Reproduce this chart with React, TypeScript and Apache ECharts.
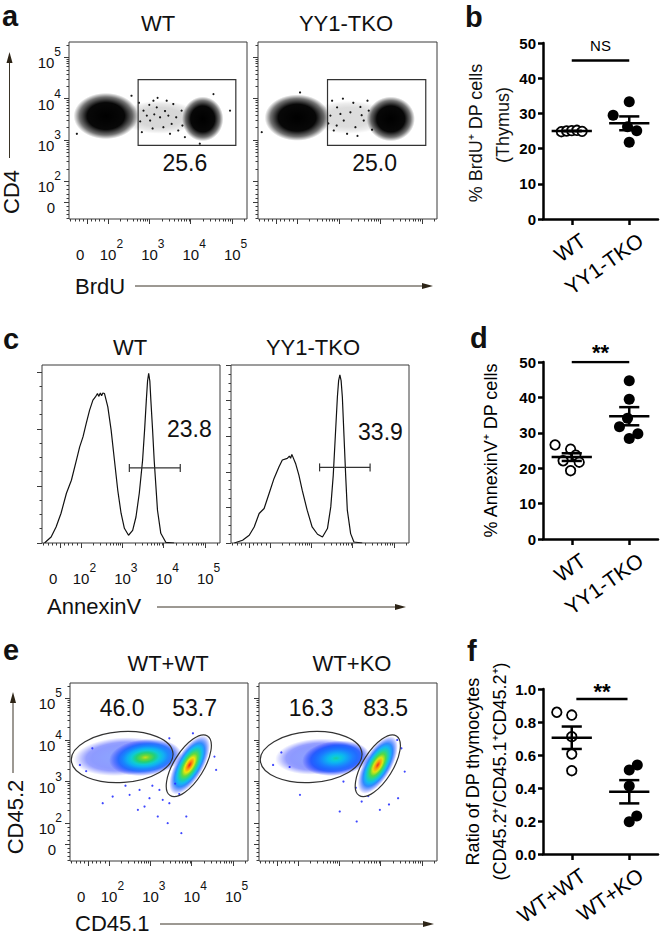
import React, { useEffect, useRef } from "react";
import * as echarts from "echarts";

const FONT = "'Liberation Sans', Arial, Helvetica, sans-serif";
const INK = "#111111";
const BORDER = "#3a3a3a";

// ---------- flow cytometry display scale (biexponential, decade units) ----------
const flowTickValues = [0, 0.5, 1.5, 2.5, 3.5];
const flowTickExponents = ["0", "2", "3", "4", "5"];
const flowXLabelValues = [-0.17, 0.5, 1.5, 2.5, 3.5]; // the "0" label sits a little left of its tick
const flowXRange = [-0.44, 3.86];
const flowYRange = [-0.41, 3.87];

// ---------- panel a : BrdU / CD4 dot plots ----------
const aTitles = ["WT", "YY1-TKO"];
const aGatePercent = ["25.6", "25.0"];
const aGateBox = [1.23, 1.37, 3.59, 2.96]; // u1, v1, u2, v2
const aGateLabelAt = [2.36, 0.94];
// population clouds: [centre u, centre v, spread u, spread v, tilt deg, relative density]
const aWTPops = [
  [1.75, 2.05, 0.95, 0.4, 0, 0.16],
  [0.45, 2.08, 0.78, 0.56, 0, 1.0],
  [2.79, 2.01, 0.5, 0.54, 0, 1.0],
];
const aKOPops = [
  [1.75, 2.05, 0.95, 0.4, 0, 0.14],
  [0.5, 2.04, 0.78, 0.56, 0, 1.0],
  [2.75, 2.01, 0.58, 0.54, 0, 1.0],
];
const aWTSparse = [
  [1.36, 2.21], [1.52, 1.97], [1.68, 2.29], [1.84, 1.81], [1.96, 2.09], [2.08, 2.37], [2.2, 1.73],
  [1.32, 1.69], [1.6, 2.45], [1.92, 2.45], [2.28, 2.21], [2.04, 1.89], [1.76, 2.05], [1.44, 2.09],
  [2.36, 1.57], [3.05, 2.61], [3.45, 2.21], [-0.25, 1.65], [2.72, 1.41], [1.07, 2.57],
  [1.28, 1.95], [1.58, 1.78], [1.7, 2.52], [1.88, 2.2], [2.15, 2.05], [2.3, 1.85], [1.5, 2.35],
  [2.0, 1.65], [1.25, 2.4], [1.62, 2.12],
];
const aKOSparse = [
  [1.3, 2.09], [1.46, 2.29], [1.62, 1.97], [1.38, 1.73], [1.78, 2.17], [1.9, 1.81], [1.34, 2.45],
  [2.1, 1.97], [2.22, 2.21], [2.19, 2.45], [1.7, 1.65], [1.54, 2.13], [-0.35, 1.69], [0.57, 2.65],
  [1.85, 2.4], [2.02, 2.3], [1.6, 2.5], [2.3, 1.75], [1.25, 1.9], [1.95, 1.6], [1.45, 1.85],
  [2.05, 2.1],
];

// ---------- panel b ----------
const bGroups = ["WT", "YY1-TKO"];
const bWT = [24.8, 25.0, 25.1, 25.2, 24.9];
const bWTJitter = [-0.18, -0.09, 0, 0.09, 0.18];
const bKO = [33.3, 29.5, 26.2, 25.1, 21.8];
const bKOJitter = [0, -0.28, -0.03, 0.13, 0];
const bSignif = "NS";
const bSignifLevel = 45;
const bAxisTitle = ["% BrdU⁺ DP cells", "(Thymus)"];

// ---------- panel c : AnnexinV histograms ----------
const cTitles = ["WT", "YY1-TKO"];
const cWTHist = [
  [-0.38, 0], [-0.22, 5.3], [-0.1, 14], [0.02, 26.1], [0.15, 43.6], [0.27, 55], [0.39, 72.5],
  [0.47, 84.2], [0.55, 93], [0.63, 105], [0.71, 116.4], [0.79, 125.2], [0.85, 128], [0.9, 131],
  [0.93, 128.5], [0.97, 131.5], [1.0, 129], [1.03, 131.5], [1.07, 131], [1.15, 119.3], [1.23, 98.9],
  [1.31, 72.5], [1.39, 46.2], [1.47, 26.1], [1.55, 12.9], [1.65, 6.8], [1.75, 11.1], [1.83, 22.8],
  [1.91, 43.6], [1.99, 72.5], [2.04, 100], [2.08, 125], [2.11, 142], [2.137, 148.6], [2.165, 142],
  [2.19, 125], [2.23, 100], [2.27, 72.5], [2.35, 28.7], [2.43, 8.5], [2.55, 0.6], [2.75, 0],
];
const cKOHist = [
  [-0.36, 0], [-0.16, 3.8], [0, 10.8], [0.12, 22.5], [0.24, 41.4], [0.36, 48.5], [0.48, 69.6],
  [0.6, 90.7], [0.72, 107], [0.8, 116.5], [0.92, 118.9], [0.97, 122], [1.0, 119], [1.03, 124.5],
  [1.12, 111.8], [1.2, 95.4], [1.28, 74.2], [1.4, 46.1], [1.52, 22.5], [1.65, 12.3], [1.77, 8.5],
  [1.89, 20.3], [1.97, 50.7], [2.03, 95], [2.08, 150], [2.13, 205], [2.16, 228], [2.19, 236.2],
  [2.22, 228], [2.25, 205], [2.29, 150], [2.33, 95], [2.37, 46.1], [2.45, 13.2], [2.53, 1.4], [2.73, 0],
];
const cHistMax = [156, 250];
const cGates = [[1.67, 2.9, 65.8], [1.7, 2.92, 106.2]];
const cGatePercent = ["23.8", "33.9"];
const cGateLabelAt = [[3.12, 100.3], [3.17, 156.3]];

// ---------- panel d ----------
const dGroups = ["WT", "YY1-TKO"];
const dWT = [26.6, 25.4, 23.7, 22.1, 21.7, 19.3];
const dWTJitter = [-0.29, -0.02, 0.07, -0.15, 0.13, -0.02];
const dKO = [44.7, 39.5, 34.1, 31.7, 29.7, 28.4];
const dKOJitter = [0, 0, -0.03, -0.17, 0.15, 0];
const dSignif = "**";
const dSignifLevel = 50;

// ---------- panel e : CD45.1 / CD45.2 pseudocolour plots ----------
const eTitles = ["WT+WT", "WT+KO"];
const ePercentLeft = ["46.0", "16.3"];
const ePercentRight = ["53.7", "83.5"];
const eLabelLeftAt = [0.82, 3.26];
const eLabelRightAt = [[2.57, 3.26], [2.62, 3.26]];
// gates: [centre u, centre v, semi u, semi v, tilt deg]
const eGates = [[0.82, 2.09, 1.23, 0.61, 4], [2.43, 1.88, 0.85, 0.36, 58]];
// populations: [centre u, centre v, spread u, spread v, tilt deg, peak density level 0..1]
const eWWPops = [
  [0.8, 2.1, 1.15, 0.46, 4, 0.12],
  [1.38, 2.08, 0.88, 0.44, 6, 0.72],
  [2.45, 1.9, 0.8, 0.33, 60, 1.0],
];
const eWKPops = [
  [0.95, 2.1, 1.0, 0.43, 4, 0.1],
  [1.42, 2.06, 0.82, 0.42, 6, 0.5],
  [2.43, 1.9, 0.78, 0.33, 60, 0.98],
];
const eWWSparse = [
  [0.35, 0.98], [0.59, 1.14], [1.0, 1.18], [1.24, 1.3], [1.36, 0.9], [1.48, 1.1], [1.68, 0.66],
  [1.72, 1.3], [1.92, 0.5], [2.25, 0.26], [2.37, 0.66], [1.96, 0.98], [1.8, 1.06], [1.2, 0.82],
  [3.09, 1.78], [3.05, 2.1], [1.96, 2.54], [2.53, 2.66], [2.1, 1.45], [1.55, 1.4], [2.2, 1.2],
  [0.9, 1.4], [-0.2, 1.9], [0.1, 2.3], [-0.05, 1.75],
];
const eWKSparse = [
  [0.55, 1.18], [1.51, 0.78], [1.92, 0.54], [2.04, 1.02], [2.92, 1.1], [3.08, 1.74], [2.48, 0.82],
  [2.7, 0.95], [1.9, 1.35], [2.2, 1.15], [0.1, 2.2], [-0.1, 1.9], [0.3, 1.85], [3.0, 2.3], [2.9, 2.5],
  [1.6, 1.5],
];

// ---------- panel f ----------
const fGroups = ["WT+WT", "WT+KO"];
const fWW = [0.859, 0.842, 0.711, 0.606, 0.505];
const fWWJitter = [-0.26, 0, 0, 0, 0];
const fWK = [0.539, 0.509, 0.412, 0.23, 0.196];
const fWKJitter = [0.14, 0, 0, 0.13, 0];
const fSignif = "**";
const fSignifLevel = 0.94;

// ---------------------------------------------------------------------------
function flowMinorTicks(range: number[]) {
  const t: number[] = [];
  for (let k = 2; k <= 5; k++) for (let m = 2; m <= 9; m++) t.push(k - 1.5 + Math.log10(m));
  for (let m = 1; m <= 4; m++) { t.push(m * 0.1); t.push(-m * 0.1); }
  return t.filter((v) => v > range[0] && v < range[1]);
}

function mean(a: number[]) { return a.reduce((s, v) => s + v, 0) / a.length; }
function sem(a: number[]) {
  const m = mean(a);
  const v = a.reduce((s, x) => s + (x - m) * (x - m), 0) / (a.length - 1);
  return Math.sqrt(v) / Math.sqrt(a.length);
}

const PSEUDO: [number, number[]][] = [
  [0, [30, 40, 255]], [0.25, [20, 120, 255]], [0.42, [0, 205, 235]], [0.58, [40, 212, 70]],
  [0.75, [235, 230, 0]], [0.88, [255, 130, 0]], [1, [230, 20, 30]],
];
function pseudo(t: number, a: number) {
  t = Math.max(0, Math.min(1, t));
  let i = 0;
  while (i < PSEUDO.length - 2 && t > PSEUDO[i + 1][0]) i++;
  const [t0, c0] = PSEUDO[i];
  const [t1, c1] = PSEUDO[i + 1];
  const f = (t - t0) / (t1 - t0);
  const c = c0.map((v, k) => Math.round(v + (c1[k] - v) * f));
  return `rgba(${c[0]},${c[1]},${c[2]},${a.toFixed(3)})`;
}
function pseudoFill(level: number) {
  const alpha = level < 0.2 ? 0.5 : 0.95;
  const rs = [0, 0.12, 0.25, 0.38, 0.5, 0.62, 0.74, 0.86, 1];
  return new echarts.graphic.RadialGradient(0.5, 0.5, 0.5,
    rs.map((r) => ({ offset: r, color: pseudo(level * (1 - r), r < 0.72 ? alpha : alpha * Math.max(0, (1 - r) / 0.28)) })));
}
function blackFill(d: number) {
  return new echarts.graphic.RadialGradient(0.5, 0.5, 0.5, [
    { offset: 0, color: `rgba(0,0,0,${d})` },
    { offset: 0.58, color: `rgba(0,0,0,${0.97 * d})` },
    { offset: 0.82, color: `rgba(0,0,0,${0.55 * d})` },
    { offset: 1, color: "rgba(0,0,0,0)" },
  ]);
}

const richBase = { fontFamily: FONT, fontSize: 15, color: INK, verticalAlign: "bottom", lineHeight: 24 };
const richSup = { fontFamily: FONT, fontSize: 12, color: INK, verticalAlign: "top", lineHeight: 12 };

function nearestIndex(list: number[], v: number) {
  let best = 0;
  list.forEach((t, i) => { if (Math.abs(t - v) < Math.abs(list[best] - v)) best = i; });
  return best;
}

function buildOption() {
  const grid: any[] = [];
  const xAxis: any[] = [];
  const yAxis: any[] = [];
  const series: any[] = [];

  const addGrid = (l: number, t: number, w: number, h: number, show: boolean) => {
    grid.push({ left: l, top: t, width: w, height: h, show, borderColor: BORDER, borderWidth: 1, backgroundColor: "transparent" });
    return grid.length - 1;
  };

  const tickStyle = { color: BORDER, width: 1 };
  const noLine = { show: false, onZero: false };

  const flowPanel = (rect: number[], o: { xLabels: boolean; yLabels: boolean; histMax?: number }) => {
    const g = addGrid(rect[0], rect[1], rect[2], rect[3], true);
    const xi = xAxis.length;
    xAxis.push({
      gridIndex: g, type: "value", position: "bottom", min: flowXRange[0], max: flowXRange[1],
      axisLine: noLine, splitLine: { show: false },
      axisTick: { show: true, length: 5, customValues: flowTickValues, lineStyle: tickStyle },
      axisLabel: o.xLabels
        ? {
            show: true, customValues: flowXLabelValues, margin: 19, align: "center", hideOverlap: false,
            alignMinLabel: "center", alignMaxLabel: "center", showMinLabel: true, showMaxLabel: true,
            formatter: (v: number) => {
              const i = nearestIndex(flowXLabelValues, v);
              return i === 0 ? "{b|0}" : `{sp| }{b|10}{s|${flowTickExponents[i]}}`;
            },
            rich: { b: richBase, s: richSup, sp: { width: 7 } },
          }
        : { show: false },
    });
    xAxis.push({
      gridIndex: g, type: "value", position: "bottom", min: flowXRange[0], max: flowXRange[1],
      axisLine: noLine, splitLine: { show: false }, axisLabel: { show: false },
      axisTick: { show: true, length: 2.5, customValues: flowMinorTicks(flowXRange), lineStyle: tickStyle },
    });
    const yi = yAxis.length;
    if (o.histMax) {
      const maj: number[] = [];
      const min: number[] = [];
      for (let v = 0; v <= o.histMax; v += 12.5) (v % 50 === 0 ? maj : min).push(v);
      yAxis.push({
        gridIndex: g, type: "value", position: "left", min: 0, max: o.histMax,
        axisLine: noLine, splitLine: { show: false }, axisLabel: { show: false },
        axisTick: { show: true, length: 5, customValues: maj, lineStyle: tickStyle },
      });
      yAxis.push({
        gridIndex: g, type: "value", position: "left", min: 0, max: o.histMax,
        axisLine: noLine, splitLine: { show: false }, axisLabel: { show: false },
        axisTick: { show: true, length: 2.5, customValues: min, lineStyle: tickStyle },
      });
    } else {
      yAxis.push({
        gridIndex: g, type: "value", position: "left", min: flowYRange[0], max: flowYRange[1],
        axisLine: noLine, splitLine: { show: false },
        axisTick: { show: true, length: 5, customValues: flowTickValues, lineStyle: tickStyle },
        axisLabel: o.yLabels
          ? {
              show: true, customValues: flowTickValues, margin: 8, align: "right", padding: [2, 0, 0, 0],
              formatter: (v: number) => {
                const i = nearestIndex(flowTickValues, v);
                return i === 0 ? "{b|0}{gap| }" : `{b|10}{s|${flowTickExponents[i]}}`;
              },
              rich: { b: richBase, s: richSup, gap: { width: 6 } },
            }
          : { show: false },
      });
      yAxis.push({
        gridIndex: g, type: "value", position: "left", min: flowYRange[0], max: flowYRange[1],
        axisLine: noLine, splitLine: { show: false }, axisLabel: { show: false },
        axisTick: { show: true, length: 2.5, customValues: flowMinorTicks(flowYRange), lineStyle: tickStyle },
      });
    }
    return { xAxisIndex: xi, yAxisIndex: yi };
  };

  const cloudSeries = (ax: any, pops: number[][], fill: (d: number) => any) => ({
    type: "custom", ...ax, clip: true, silent: true, z: 1, data: pops,
    renderItem: (_p: any, api: any) => {
      const c = api.coord([api.value(0), api.value(1)]);
      const rx = api.size([api.value(2), 0])[0];
      const ry = api.size([0, api.value(3)])[1];
      return {
        type: "ellipse", x: c[0], y: c[1], rotation: (api.value(4) * Math.PI) / 180,
        shape: { cx: 0, cy: 0, rx, ry }, style: { fill: fill(api.value(5)) },
      };
    },
  });
  const sparseSeries = (ax: any, pts: number[][], color: string) => ({
    type: "scatter", ...ax, silent: true, z: 2, symbolSize: 2.2, itemStyle: { color, opacity: 1 }, data: pts,
  });
  const labelSeries = (ax: any, items: { value: number[]; name: string }[], size = 23) => ({
    type: "scatter", ...ax, silent: true, z: 5, symbolSize: 1, itemStyle: { color: "transparent", opacity: 1 },
    label: { show: true, position: "inside", formatter: "{b}", fontFamily: FONT, fontSize: size, color: INK, opacity: 1 },
    data: items,
  });

  // ===== panel e (built first) =====
  const ePanels = [
    { rect: [70, 683, 178, 178], pops: eWWPops, sparse: eWWSparse, labels: true },
    { rect: [259, 683, 178, 178], pops: eWKPops, sparse: eWKSparse, labels: false },
  ];
  ePanels.forEach((p, i) => {
    const ax = flowPanel(p.rect, { xLabels: p.labels, yLabels: p.labels });
    series.push(sparseSeries(ax, p.sparse, "rgba(40,50,255,0.9)"));
    series.push(cloudSeries(ax, p.pops, pseudoFill));
    series.push({
      type: "custom", ...ax, silent: true, z: 4, data: eGates,
      renderItem: (_p: any, api: any) => {
        const c = api.coord([api.value(0), api.value(1)]);
        const rx = api.size([api.value(2), 0])[0];
        const ry = api.size([0, api.value(3)])[1];
        return {
          type: "ellipse", x: c[0], y: c[1], rotation: (api.value(4) * Math.PI) / 180,
          shape: { cx: 0, cy: 0, rx, ry }, style: { fill: "none", stroke: "#333", lineWidth: 1.2 },
        };
      },
    });
    series.push(labelSeries(ax, [
      { value: eLabelLeftAt, name: ePercentLeft[i] },
      { value: eLabelRightAt[i], name: ePercentRight[i] },
    ]));
  });

  // ===== panel a =====
  const aPanels = [
    { rect: [69, 42, 178, 177], pops: aWTPops, sparse: aWTSparse, labels: true },
    { rect: [258, 42, 179, 177], pops: aKOPops, sparse: aKOSparse, labels: false },
  ];
  aPanels.forEach((p, i) => {
    const ax = flowPanel(p.rect, { xLabels: p.labels, yLabels: p.labels });
    series.push(cloudSeries(ax, p.pops, blackFill));
    series.push(sparseSeries(ax, p.sparse, "rgba(0,0,0,0.9)"));
    series.push({
      type: "custom", ...ax, silent: true, z: 4, data: [aGateBox],
      renderItem: (_p: any, api: any) => {
        const p1 = api.coord([api.value(0), api.value(3)]);
        const p2 = api.coord([api.value(2), api.value(1)]);
        return { type: "rect", shape: { x: p1[0], y: p1[1], width: p2[0] - p1[0], height: p2[1] - p1[1] }, style: { fill: "none", stroke: "#333", lineWidth: 1.2 } };
      },
    });
    series.push(labelSeries(ax, [{ value: aGateLabelAt, name: aGatePercent[i] }]));
  });

  // ===== panel c =====
  const cPanels = [
    { rect: [42, 365, 178, 178], hist: cWTHist, labels: true },
    { rect: [231, 365, 178, 178], hist: cKOHist, labels: false },
  ];
  cPanels.forEach((p, i) => {
    const ax = flowPanel(p.rect, { xLabels: p.labels, yLabels: false, histMax: cHistMax[i] });
    series.push({
      type: "line", ...ax, silent: true, z: 3, symbol: "none", clip: true, data: p.hist,
      lineStyle: { color: INK, width: 1.2 },
    });
    series.push({
      type: "custom", ...ax, silent: true, z: 4, data: [cGates[i]],
      renderItem: (_p: any, api: any) => {
        const a = api.coord([api.value(0), api.value(2)]);
        const b = api.coord([api.value(1), api.value(2)]);
        const st = { stroke: "#333", lineWidth: 1.2 };
        return {
          type: "group", children: [
            { type: "line", shape: { x1: a[0], y1: a[1], x2: b[0], y2: b[1] }, style: st },
            { type: "line", shape: { x1: a[0], y1: a[1] - 4, x2: a[0], y2: a[1] + 4 }, style: st },
            { type: "line", shape: { x1: b[0], y1: b[1] - 4, x2: b[0], y2: b[1] + 4 }, style: st },
          ],
        };
      },
    });
    series.push(labelSeries(ax, [{ value: cGateLabelAt[i], name: cGatePercent[i] }]));
  });

  // ===== dot plots b, d, f =====
  const nameStyle = { fontFamily: FONT, fontSize: 18, color: "#000" };
  const dotPanel = (rect: number[], cfg: any) => {
    const g = addGrid(rect[0], rect[1], rect[2], rect[3], false);
    const xi = xAxis.length;
    xAxis.push({
      gridIndex: g, type: "value", position: "bottom", min: -0.5, max: 1.5,
      axisLine: { show: true, onZero: false, lineStyle: { color: "#000", width: 2.5 } },
      splitLine: { show: false },
      axisTick: { show: true, length: 6, customValues: [0, 1], lineStyle: { color: "#000", width: 2.5 } },
      axisLabel: {
        show: true, customValues: [0.2, 1.2], rotate: 35, margin: 19,
        formatter: (v: number) => cfg.groups[Math.round(v - 0.2)],
        fontFamily: FONT, fontSize: 21, color: "#000",
      },
    });
    const yi = yAxis.length;
    yAxis.push({
      gridIndex: g, type: "value", position: "left", min: 0, max: cfg.yMax, interval: cfg.yInterval,
      axisLine: { show: true, onZero: false, lineStyle: { color: "#000", width: 2.5 } },
      splitLine: { show: false },
      axisTick: { show: true, length: 5, lineStyle: { color: "#000", width: 2.5 } },
      axisLabel: { show: true, margin: 7, fontFamily: FONT, fontSize: 15, fontWeight: "bold", color: "#000", formatter: cfg.fmt },
      name: cfg.names ? cfg.names[cfg.names.length - 1] : "", nameLocation: "middle", nameRotate: 90,
      nameGap: cfg.nameGaps ? cfg.nameGaps[cfg.nameGaps.length - 1] : 0, nameMoveOverlap: false,
      nameTextStyle: nameStyle,
    });
    if (cfg.names && cfg.names.length > 1) {
      yAxis.push({
        gridIndex: g, type: "value", position: "left", min: 0, max: cfg.yMax,
        axisLine: { show: false, onZero: false }, axisTick: { show: false }, axisLabel: { show: false },
        splitLine: { show: false },
        name: cfg.names[0], nameLocation: "middle", nameRotate: 90, nameGap: cfg.nameGaps[0], nameMoveOverlap: false,
        nameTextStyle: nameStyle,
      });
    }
    const ax = { xAxisIndex: xi, yAxisIndex: yi };
    const [A, B] = cfg.values;
    const [JA, JB] = cfg.jitter;
    series.push({
      type: "scatter", ...ax, silent: true, z: 3, symbol: "circle", symbolSize: 9.5,
      itemStyle: { color: "#fff", borderColor: "#000", borderWidth: 1.8, opacity: 1 },
      data: A.map((v: number, i: number) => [JA[i], v]),
    });
    series.push({
      type: "scatter", ...ax, silent: true, z: 3, symbol: "circle", symbolSize: 11,
      itemStyle: { color: "#000", opacity: 1 },
      data: B.map((v: number, i: number) => [1 + JB[i], v]),
    });
    series.push({
      type: "custom", ...ax, silent: true, z: 4,
      data: [[0, mean(A), sem(A)], [1, mean(B), sem(B)]],
      renderItem: (_p: any, api: any) => {
        const x = api.value(0), m = api.value(1), s = api.value(2);
        const st = { stroke: "#000", lineWidth: 2.5 };
        const seg = (x1: number, y1: number, x2: number, y2: number) => {
          const a = api.coord([x1, y1]);
          const b = api.coord([x2, y2]);
          return { type: "line", shape: { x1: a[0], y1: a[1], x2: b[0], y2: b[1] }, style: st };
        };
        return {
          type: "group", children: [
            seg(x - 0.35, m, x + 0.35, m),
            seg(x, m - s, x, m + s),
            seg(x - 0.175, m + s, x + 0.175, m + s),
            seg(x - 0.175, m - s, x + 0.175, m - s),
          ],
        };
      },
    });
    series.push({
      type: "line", ...ax, silent: true, z: 4, symbol: "none",
      lineStyle: { color: "#000", width: 2.5 },
      data: [[cfg.sigFrom, cfg.sigLevel], [cfg.sigTo, cfg.sigLevel]],
    });
    series.push({
      type: "scatter", ...ax, silent: true, z: 5, symbolSize: 1, itemStyle: { color: "transparent", opacity: 1 },
      label: {
        show: true, position: "top", distance: cfg.sigDistance, formatter: "{b}", fontFamily: FONT,
        fontSize: cfg.sigSize, fontWeight: cfg.sigBold ? "bold" : "normal", color: "#000",
      },
      data: [{ value: [(cfg.sigFrom + cfg.sigTo) / 2, cfg.sigLevel], name: cfg.sig }],
    });
  };

  dotPanel([543, 43, 115, 176], {
    groups: bGroups, yMax: 50, yInterval: 10, fmt: (v: number) => String(v),
    values: [bWT, bKO], jitter: [bWTJitter, bKOJitter],
    sig: bSignif, sigLevel: bSignifLevel, sigFrom: 0, sigTo: 1, sigSize: 15, sigBold: false, sigDistance: 7,
  });
  dotPanel([543, 362, 115, 177], {
    groups: dGroups, yMax: 50, yInterval: 10, fmt: (v: number) => String(v),
    names: ["% AnnexinV⁺ DP cells"], nameGaps: [43],
    values: [dWT, dKO], jitter: [dWTJitter, dKOJitter],
    sig: dSignif, sigLevel: dSignifLevel, sigFrom: 0, sigTo: 1, sigSize: 22, sigBold: true, sigDistance: -2,
  });
  dotPanel([543, 689, 115, 165], {
    groups: fGroups, yMax: 1, yInterval: 0.2, fmt: (v: number) => v.toFixed(1),
    names: ["Ratio of DP thymocytes", "(CD45.2⁺/CD45.1⁺CD45.2⁺)"], nameGaps: [61, 34],
    values: [fWW, fWK], jitter: [fWWJitter, fWKJitter],
    sig: fSignif, sigLevel: fSignifLevel, sigFrom: 0.08, sigTo: 0.97, sigSize: 22, sigBold: true, sigDistance: -4,
  });

  // ===== free text & arrows =====
  const txt = (text: string, x: number, y: number, size: number, opts: any = {}) => ({
    type: "text", x, y, rotation: opts.rotation || 0, silent: true,
    style: {
      text, fill: INK, font: `${opts.bold ? "bold " : ""}${size}px ${FONT}`,
      textAlign: opts.align || "center", textVerticalAlign: "middle",
    },
  });
  const arrowStroke = { stroke: "#3a3326", lineWidth: 1 };
  const arrowFill = { fill: "#2d2416" };
  const hArrow = (x1: number, x2: number, y: number) => [
    { type: "line", silent: true, shape: { x1, y1: y, x2: x2 - 9, y2: y }, style: arrowStroke },
    { type: "polygon", silent: true, shape: { points: [[x2, y], [x2 - 11, y - 3], [x2 - 11, y + 3]] }, style: arrowFill },
  ];
  const vArrow = (x: number, y1: number, y2: number) => [
    { type: "line", silent: true, shape: { x1: x, y1, x2: x, y2: y2 + 9 }, style: arrowStroke },
    { type: "polygon", silent: true, shape: { points: [[x, y2], [x - 3, y2 + 11], [x + 3, y2 + 11]] }, style: arrowFill },
  ];

  const graphic: any[] = [
    txt("a", 2, 16, 29, { bold: true, align: "left" }),
    txt("b", 465, 17, 29, { bold: true, align: "left" }),
    txt("c", 3, 339, 29, { bold: true, align: "left" }),
    txt("d", 470, 338, 29, { bold: true, align: "left" }),
    txt("e", 3, 650, 29, { bold: true, align: "left" }),
    txt("f", 467, 651, 29, { bold: true, align: "left" }),
    txt(aTitles[0], 158, 23, 22), txt(aTitles[1], 346, 23, 22),
    txt(cTitles[0], 130, 347, 22), txt(cTitles[1], 313, 347, 22),
    txt(eTitles[0], 168, 663, 22), txt(eTitles[1], 352, 663, 22),
    txt(bAxisTitle[0], 476, 133, 18, { rotation: Math.PI / 2 }),
    txt(bAxisTitle[1], 503, 125, 18, { rotation: Math.PI / 2 }),
    txt("CD4", 11, 192, 22, { rotation: Math.PI / 2 }),
    ...vArrow(9.5, 158, 52),
    txt("BrdU", 75, 286, 22, { align: "left" }),
    ...hArrow(135, 433, 286),
    txt("AnnexinV", 47, 606, 22, { align: "left" }),
    ...hArrow(157, 406, 607),
    txt("CD45.2", 15, 817, 22, { rotation: Math.PI / 2 }),
    ...vArrow(13, 773, 692),
    txt("CD45.1", 75, 923, 22, { align: "left" }),
    ...hArrow(160, 434, 924),
  ];

  return {
    animation: false,
    backgroundColor: "#ffffff",
    textStyle: { fontFamily: FONT },
    grid, xAxis, yAxis, series, graphic,
  };
}

export default function App() {
  const ref = useRef<HTMLDivElement>(null);
  useEffect(() => {
    if (!ref.current) return;
    const chart = echarts.init(ref.current, undefined, { renderer: "svg" });
    chart.setOption(buildOption() as any);
    return () => chart.dispose();
  }, []);
  return (
    <div
      ref={ref}
      style={{ position: "absolute", left: 0, top: 0, width: 666, height: 936, background: "#fff" }}
    />
  );
}
